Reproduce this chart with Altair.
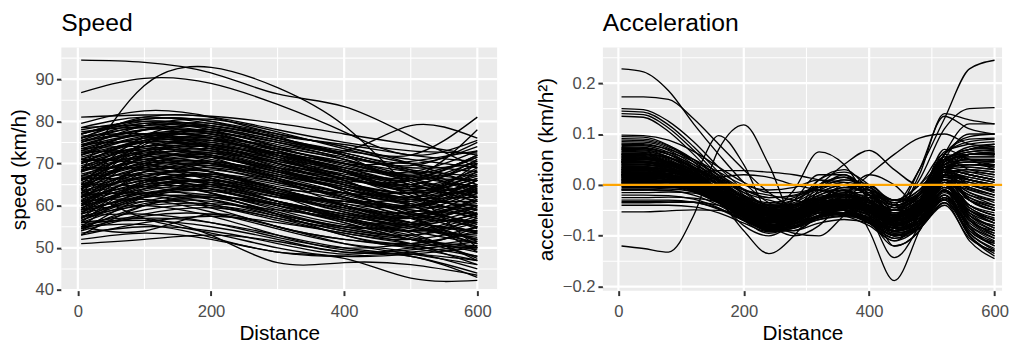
import altair as alt
import pandas as pd

FONT = "Liberation Sans"

# ---------------- data ----------------
DIST_SPEED = [5, 100, 200, 300, 400, 500, 600]
SPEED_CURVES = [
    [94.5, 94.0, 91.5, 86.5, 83.5, 76.5, 69.0],
    [86.8, 90.2, 89.0, 84.0, 77.5, 72.0, 75.5],
    [68.0, 88.5, 92.8, 88.0, 79.0, 64.0, 50.0],
    [81.0, 81.5, 81.2, 79.5, 77.0, 74.5, 72.0],
    [79.5, 82.5, 81.0, 77.0, 74.0, 72.0, 81.0],
    [78.5, 81.0, 79.5, 76.5, 73.0, 79.0, 76.0],
    [77.0, 80.5, 80.0, 76.0, 72.0, 67.0, 78.0],
    [51.0, 52.0, 53.0, 51.5, 49.0, 48.5, 47.0],
    [52.0, 53.5, 52.0, 49.0, 48.0, 49.0, 50.5],
    [56.0, 57.0, 53.0, 46.5, 46.5, 46.0, 43.5],
    [55.0, 55.5, 52.5, 49.0, 47.5, 42.8, 42.3],
    [64.0, 57.0, 53.5, 50.0, 48.0, 48.5, 50.0],
    [55.0, 54.0, 58.0, 55.0, 52.0, 50.0, 47.0],
    [53.5, 55.0, 54.0, 51.0, 48.5, 50.0, 52.0],
    [54.0, 57.5, 58.0, 55.0, 51.0, 48.5, 46.0],
    [54.5, 58.0, 59.5, 57.0, 53.0, 50.5, 55.0],
    [55.0, 59.0, 60.0, 57.5, 54.0, 52.0, 50.0],
    [55.5, 57.0, 56.0, 53.0, 50.0, 48.0, 44.0],
    [56.0, 60.5, 61.0, 58.0, 54.5, 53.0, 57.0],
    [56.5, 61.0, 62.5, 60.0, 56.0, 52.0, 48.0],
    [57.0, 62.0, 61.5, 58.0, 55.0, 55.5, 60.0],
    [57.5, 60.0, 60.5, 59.0, 57.0, 54.0, 51.0],
    [58.0, 63.0, 63.5, 60.5, 57.0, 56.0, 62.0],
    [58.5, 62.5, 64.0, 61.0, 58.0, 54.5, 53.0],
    [59.0, 64.0, 63.0, 59.0, 55.5, 53.0, 47.5],
    [59.5, 63.5, 65.0, 62.5, 59.0, 57.5, 63.0],
    [60.0, 65.0, 64.5, 61.0, 58.0, 56.0, 54.0],
    [60.5, 64.0, 66.0, 63.5, 60.0, 58.0, 60.0],
    [61.0, 66.0, 65.0, 62.0, 60.5, 57.0, 56.5],
    [61.5, 65.5, 67.0, 64.0, 60.0, 56.0, 52.0],
    [62.0, 67.0, 66.5, 63.0, 61.0, 59.5, 64.0],
    [62.5, 66.0, 67.5, 65.5, 62.0, 59.0, 58.0],
    [63.0, 68.0, 67.0, 63.5, 60.5, 60.0, 66.0],
    [63.5, 67.0, 68.5, 66.0, 63.0, 58.5, 55.0],
    [64.0, 69.0, 68.0, 64.0, 61.0, 61.5, 62.0],
    [64.5, 68.0, 69.5, 67.0, 64.5, 62.0, 68.0],
    [65.0, 70.0, 69.0, 65.5, 62.0, 58.0, 53.5],
    [65.5, 69.5, 70.5, 68.0, 65.0, 63.0, 65.0],
    [66.0, 71.0, 70.0, 66.0, 63.0, 60.5, 59.0],
    [66.5, 70.0, 71.5, 69.0, 66.0, 62.0, 70.0],
    [67.0, 72.0, 71.0, 67.5, 64.0, 61.0, 57.0],
    [67.5, 71.0, 72.5, 70.0, 67.0, 64.5, 63.0],
    [68.0, 73.0, 72.0, 68.0, 65.5, 63.0, 69.0],
    [68.5, 72.0, 73.5, 71.0, 68.0, 65.0, 61.0],
    [69.0, 74.0, 73.0, 69.0, 66.0, 66.0, 72.0],
    [69.5, 73.0, 74.0, 72.0, 69.0, 64.0, 58.0],
    [70.0, 75.0, 74.0, 70.5, 67.0, 62.0, 60.0],
    [70.5, 74.0, 75.0, 72.5, 70.0, 67.0, 66.0],
    [71.0, 75.5, 74.5, 71.0, 68.5, 65.0, 71.0],
    [71.5, 75.0, 76.0, 73.5, 70.0, 66.5, 62.0],
    [72.0, 76.0, 75.0, 72.0, 69.0, 68.0, 73.0],
    [72.5, 76.5, 76.5, 74.0, 71.0, 67.0, 64.5],
    [73.0, 77.0, 76.0, 72.5, 70.0, 65.5, 59.5],
    [73.5, 77.0, 77.5, 75.0, 72.0, 69.0, 70.0],
    [74.0, 78.0, 77.0, 73.5, 70.5, 68.0, 66.0],
    [74.5, 78.0, 78.5, 75.5, 72.5, 70.0, 74.0],
    [75.0, 79.0, 78.0, 74.0, 71.0, 66.0, 62.0],
    [75.5, 79.5, 79.0, 76.0, 73.0, 71.0, 69.0],
    [76.0, 80.0, 78.5, 75.0, 72.0, 69.5, 75.0],
    [77.0, 80.5, 80.0, 77.0, 74.0, 70.0, 65.0],
    [78.0, 80.0, 79.0, 76.5, 74.5, 72.0, 70.5],
    [53.0, 60.0, 62.0, 58.0, 53.0, 51.0, 54.0],
    [54.0, 62.0, 64.5, 61.0, 56.5, 52.5, 49.0],
    [55.0, 64.0, 66.0, 63.0, 59.5, 55.0, 52.5],
    [56.0, 65.5, 67.0, 62.5, 57.0, 54.0, 58.5],
    [57.0, 66.0, 69.0, 66.0, 61.5, 57.0, 51.5],
    [58.0, 68.0, 70.0, 66.5, 62.0, 60.0, 65.0],
    [59.0, 69.5, 71.5, 68.0, 63.5, 58.0, 56.0],
    [60.0, 70.0, 73.0, 70.0, 65.0, 61.5, 61.0],
    [61.0, 72.0, 74.5, 71.0, 66.0, 60.0, 54.5],
    [62.0, 73.0, 75.5, 72.5, 68.0, 64.0, 67.0],
    [63.0, 74.5, 77.0, 73.0, 68.5, 62.5, 57.5],
    [64.0, 75.0, 78.0, 75.0, 71.0, 67.0, 71.5],
    [65.0, 76.5, 79.0, 76.0, 72.0, 68.0, 63.0],
    [60.5, 66.0, 63.0, 58.0, 55.0, 52.0, 49.5],
    [62.5, 63.0, 60.5, 57.0, 54.5, 53.0, 56.0],
    [66.5, 66.0, 63.0, 59.5, 56.0, 52.0, 50.5],
    [68.5, 69.0, 66.0, 61.0, 57.5, 55.0, 52.0],
    [70.5, 71.0, 68.0, 63.0, 58.5, 55.5, 58.0],
    [72.5, 73.0, 70.5, 66.0, 60.0, 56.0, 54.0],
    [74.5, 75.0, 71.5, 66.5, 62.0, 58.0, 61.5],
    [76.5, 77.0, 74.0, 69.0, 63.5, 57.5, 49.0],
    [77.5, 78.5, 76.0, 71.5, 66.0, 60.0, 55.5],
    [78.5, 79.0, 77.5, 73.0, 68.0, 63.5, 66.5],
    [73.0, 72.0, 68.0, 64.0, 63.0, 62.0, 64.0],
    [71.0, 70.0, 66.5, 62.5, 61.0, 59.5, 60.5],
    [69.0, 68.5, 65.0, 61.0, 58.0, 55.5, 51.0],
    [67.0, 67.0, 64.0, 60.0, 56.5, 53.5, 47.0],
    [65.0, 64.5, 61.5, 57.5, 54.0, 51.0, 46.0],
    [63.0, 62.5, 59.5, 55.0, 52.0, 50.5, 48.0],
    [61.0, 61.5, 58.5, 54.5, 51.0, 49.0, 45.0],
    [59.0, 60.0, 57.5, 53.0, 49.5, 48.0, 43.0],
    [57.5, 58.0, 56.0, 52.5, 50.0, 51.0, 53.5],
    [56.0, 56.5, 55.0, 52.0, 49.0, 49.5, 51.5],
    [66.0, 73.0, 74.0, 70.0, 66.5, 64.0, 68.0],
    [68.0, 75.5, 76.5, 72.0, 67.0, 63.0, 59.0],
    [70.0, 76.0, 77.5, 74.0, 70.0, 70.5, 73.0],
    [72.0, 78.0, 79.5, 76.0, 72.5, 68.5, 64.0],
    [74.0, 79.0, 80.5, 77.5, 73.5, 70.0, 68.0],
    [76.0, 81.0, 81.0, 78.0, 75.0, 73.0, 72.5],
    [64.5, 70.5, 72.0, 69.0, 66.5, 65.0, 70.0],
    [62.0, 68.0, 70.0, 67.5, 64.0, 61.0, 66.0],
    [59.5, 65.0, 67.5, 65.0, 62.5, 60.0, 63.5],
    [57.0, 62.5, 65.0, 63.0, 60.0, 57.5, 61.0],
    [54.5, 60.0, 62.0, 60.5, 57.5, 54.0, 56.5],
    [53.0, 56.0, 57.5, 56.0, 53.5, 51.0, 50.0],
    [58.0, 61.0, 60.0, 56.5, 53.5, 52.0, 55.0],
    [59.0, 62.0, 62.0, 58.5, 55.0, 55.0, 58.0],
    [60.0, 63.0, 62.5, 60.0, 57.5, 55.0, 51.0],
    [61.0, 64.5, 64.0, 60.5, 57.0, 54.0, 57.5],
    [62.0, 65.0, 66.0, 63.0, 59.0, 57.0, 61.5],
    [63.0, 66.5, 65.5, 62.0, 59.5, 58.5, 63.5],
    [64.0, 67.5, 67.5, 64.5, 61.5, 59.0, 56.0],
    [65.0, 68.5, 68.0, 64.0, 60.0, 57.0, 60.0],
    [66.0, 69.5, 69.5, 67.0, 64.0, 61.5, 64.5],
    [67.0, 70.5, 70.0, 66.5, 63.0, 60.0, 55.0],
    [68.0, 71.5, 71.5, 68.5, 65.0, 62.0, 66.0],
    [69.0, 72.5, 72.0, 68.0, 64.5, 63.0, 67.5],
    [70.0, 73.5, 73.0, 70.0, 66.5, 64.0, 62.5],
    [71.0, 74.0, 74.5, 71.5, 68.0, 64.5, 68.5],
    [72.0, 75.0, 74.0, 70.5, 67.5, 66.0, 70.5],
    [73.0, 76.0, 75.5, 72.5, 69.0, 65.0, 61.0],
    [74.0, 77.0, 76.0, 72.0, 68.5, 66.5, 72.0],
    [75.0, 78.0, 77.5, 74.5, 71.5, 68.5, 67.0],
    [76.0, 78.5, 77.0, 73.5, 70.0, 67.5, 71.5],
    [77.0, 79.5, 78.5, 75.5, 72.0, 68.0, 63.5],
    [60.0, 67.0, 68.0, 64.0, 60.0, 57.0, 59.5],
    [62.0, 69.0, 70.5, 67.0, 63.0, 60.0, 64.5],
    [64.0, 71.5, 72.5, 68.5, 64.0, 60.5, 57.0],
    [66.0, 72.0, 74.5, 71.0, 67.0, 63.5, 66.5],
    [68.0, 74.0, 75.5, 72.0, 68.0, 66.0, 69.5],
    [70.0, 75.5, 76.0, 73.0, 69.5, 66.0, 63.0],
    [56.5, 62.0, 63.5, 60.0, 56.5, 55.5, 59.0],
    [58.5, 64.5, 65.5, 62.5, 58.5, 56.0, 53.5],
    [73.5, 74.0, 72.0, 68.5, 65.0, 61.5, 58.0],
    [75.5, 76.5, 73.5, 69.5, 65.5, 63.0, 65.0],
]

DIST_ACC = [5, 40, 80, 120, 160, 200, 240, 280, 320, 360, 400, 440, 480, 520, 560, 600]
ACC_CURVES = [
    [0.080, 0.079, 0.070, 0.050, 0.025, 0.000, -0.010, -0.005, 0.010, 0.005, -0.020, -0.030, 0.000, 0.050, 0.070, 0.075],
    [0.075, 0.074, 0.060, 0.030, -0.010, -0.050, -0.075, -0.060, -0.030, -0.040, -0.070, -0.090, -0.050, 0.030, 0.020, 0.010],
    [0.070, 0.069, 0.060, 0.040, 0.015, -0.010, -0.025, -0.020, -0.005, 0.010, 0.000, -0.030, -0.030, 0.010, -0.040, -0.060],
    [0.065, 0.064, 0.050, 0.025, -0.010, -0.045, -0.065, -0.055, -0.035, -0.010, -0.010, -0.040, -0.030, 0.020, 0.060, 0.065],
    [0.060, 0.060, 0.052, 0.035, 0.012, -0.010, -0.020, -0.030, -0.040, -0.050, -0.070, -0.100, -0.070, 0.000, -0.070, -0.090],
    [0.056, 0.055, 0.043, 0.020, -0.015, -0.055, -0.085, -0.070, -0.030, -0.005, -0.010, -0.030, 0.000, 0.060, 0.050, 0.045],
    [0.052, 0.051, 0.045, 0.030, 0.010, -0.015, -0.030, -0.040, -0.040, -0.050, -0.075, -0.105, -0.080, -0.020, -0.080, -0.110],
    [0.048, 0.047, 0.036, 0.012, -0.020, -0.055, -0.075, -0.065, -0.040, -0.020, -0.020, -0.035, -0.010, 0.050, 0.030, 0.020],
    [0.045, 0.045, 0.038, 0.022, 0.000, -0.022, -0.035, -0.025, 0.000, 0.015, -0.010, -0.060, -0.055, 0.000, -0.020, -0.040],
    [0.042, 0.041, 0.030, 0.005, -0.030, -0.065, -0.090, -0.085, -0.060, -0.045, -0.050, -0.080, -0.060, 0.000, -0.060, -0.080],
    [0.040, 0.040, 0.034, 0.018, -0.005, -0.030, -0.045, -0.040, -0.020, -0.005, -0.015, -0.045, -0.020, 0.065, 0.080, 0.085],
    [0.038, 0.037, 0.028, 0.005, -0.025, -0.055, -0.070, -0.060, -0.045, -0.040, -0.055, -0.075, -0.050, 0.010, 0.005, -0.010],
    [0.035, 0.035, 0.030, 0.015, -0.005, -0.025, -0.040, -0.045, -0.050, -0.060, -0.080, -0.110, -0.085, -0.030, -0.095, -0.125],
    [0.032, 0.032, 0.022, 0.000, -0.030, -0.065, -0.085, -0.075, -0.050, -0.035, -0.035, -0.050, -0.030, 0.035, 0.045, 0.040],
    [0.030, 0.030, 0.026, 0.012, -0.008, -0.030, -0.045, -0.035, -0.010, 0.005, -0.005, -0.030, -0.010, 0.050, 0.065, 0.070],
    [0.028, 0.028, 0.020, 0.000, -0.028, -0.058, -0.078, -0.070, -0.055, -0.055, -0.070, -0.095, -0.080, -0.025, -0.050, -0.070],
    [0.026, 0.025, 0.021, 0.008, -0.012, -0.035, -0.050, -0.040, -0.015, 0.000, -0.020, -0.055, -0.045, 0.015, 0.010, 0.000],
    [0.024, 0.024, 0.016, -0.002, -0.030, -0.062, -0.085, -0.080, -0.060, -0.045, -0.045, -0.060, -0.035, 0.030, -0.030, -0.050],
    [0.022, 0.022, 0.018, 0.006, -0.012, -0.032, -0.048, -0.050, -0.045, -0.048, -0.065, -0.090, -0.070, 0.000, -0.085, -0.115],
    [0.020, 0.020, 0.014, -0.002, -0.028, -0.058, -0.080, -0.072, -0.050, -0.030, -0.025, -0.040, -0.015, 0.055, 0.055, 0.055],
    [0.018, 0.018, 0.015, 0.004, -0.015, -0.038, -0.052, -0.045, -0.025, -0.020, -0.040, -0.070, -0.050, 0.010, -0.005, -0.020],
    [0.016, 0.016, 0.010, -0.006, -0.032, -0.062, -0.082, -0.075, -0.055, -0.045, -0.050, -0.065, -0.035, 0.035, 0.025, 0.015],
    [0.014, 0.014, 0.011, 0.000, -0.018, -0.040, -0.055, -0.055, -0.050, -0.055, -0.075, -0.105, -0.085, -0.030, -0.100, -0.135],
    [0.012, 0.012, 0.007, -0.008, -0.032, -0.060, -0.078, -0.065, -0.035, -0.015, -0.015, -0.040, -0.020, 0.050, 0.070, 0.080],
    [0.010, 0.010, 0.008, -0.002, -0.020, -0.042, -0.058, -0.055, -0.040, -0.035, -0.050, -0.080, -0.060, 0.010, -0.015, -0.030],
    [0.008, 0.008, 0.004, -0.010, -0.034, -0.064, -0.086, -0.080, -0.062, -0.055, -0.062, -0.085, -0.070, -0.020, -0.070, -0.095],
    [0.006, 0.006, 0.005, -0.003, -0.020, -0.040, -0.052, -0.040, -0.015, 0.000, -0.010, -0.040, -0.020, 0.055, 0.060, 0.060],
    [0.004, 0.004, 0.001, -0.012, -0.036, -0.066, -0.088, -0.082, -0.064, -0.055, -0.065, -0.090, -0.070, 0.000, -0.040, -0.060],
    [0.002, 0.002, 0.001, -0.006, -0.022, -0.044, -0.060, -0.060, -0.055, -0.058, -0.075, -0.100, -0.085, -0.035, -0.110, -0.145],
    [0.000, 0.000, -0.003, -0.014, -0.036, -0.064, -0.084, -0.072, -0.045, -0.025, -0.025, -0.045, -0.025, 0.040, 0.035, 0.030],
    [-0.005, -0.005, -0.005, -0.008, -0.020, -0.040, -0.055, -0.050, -0.035, -0.030, -0.045, -0.070, -0.050, 0.005, -0.010, -0.025],
    [-0.010, -0.010, -0.011, -0.020, -0.040, -0.068, -0.088, -0.082, -0.065, -0.058, -0.068, -0.092, -0.075, -0.015, -0.060, -0.085],
    [-0.015, -0.015, -0.014, -0.016, -0.026, -0.045, -0.060, -0.055, -0.038, -0.030, -0.040, -0.060, -0.035, 0.035, 0.045, 0.045],
    [-0.020, -0.020, -0.021, -0.028, -0.045, -0.070, -0.090, -0.085, -0.068, -0.060, -0.065, -0.085, -0.065, -0.005, -0.030, -0.045],
    [-0.025, -0.025, -0.024, -0.026, -0.034, -0.050, -0.062, -0.058, -0.048, -0.050, -0.070, -0.100, -0.085, -0.040, -0.105, -0.130],
    [-0.030, -0.030, -0.030, -0.034, -0.048, -0.070, -0.088, -0.082, -0.062, -0.045, -0.045, -0.060, -0.030, 0.045, 0.060, 0.065],
    [-0.035, -0.035, -0.034, -0.034, -0.040, -0.055, -0.068, -0.065, -0.055, -0.055, -0.068, -0.090, -0.072, -0.012, -0.050, -0.075],
    [-0.040, -0.040, -0.040, -0.043, -0.055, -0.075, -0.092, -0.090, -0.075, -0.068, -0.075, -0.098, -0.085, -0.035, -0.090, -0.120],
    [-0.053, -0.053, -0.051, -0.049, -0.050, -0.058, -0.066, -0.060, -0.045, -0.038, -0.048, -0.068, -0.045, 0.020, 0.005, -0.005],
    [-0.033, -0.033, -0.032, -0.034, -0.046, -0.068, -0.086, -0.082, -0.068, -0.062, -0.068, -0.090, -0.076, -0.028, -0.080, -0.105],
    [0.098, 0.097, 0.088, 0.066, 0.035, 0.005, -0.015, -0.015, -0.005, 0.000, -0.020, -0.050, -0.020, 0.060, 0.085, 0.090],
    [0.095, 0.094, 0.078, 0.045, 0.005, -0.035, -0.060, -0.058, -0.042, -0.035, -0.050, -0.080, -0.060, 0.005, -0.050, -0.075],
    [0.088, 0.087, 0.075, 0.050, 0.018, -0.015, -0.040, -0.038, -0.022, -0.018, -0.032, -0.058, -0.035, 0.035, 0.040, 0.035],
    [0.085, 0.084, 0.072, 0.045, 0.010, -0.025, -0.050, -0.048, -0.032, -0.028, -0.042, -0.068, -0.048, 0.020, -0.005, -0.020],
    [0.150, 0.148, 0.125, 0.085, 0.035, -0.010, -0.045, -0.055, -0.040, -0.030, -0.040, -0.065, -0.040, 0.060, 0.095, 0.100],
    [0.145, 0.143, 0.118, 0.075, 0.025, -0.020, -0.055, -0.060, -0.045, -0.035, -0.050, -0.080, -0.060, 0.020, -0.030, -0.050],
    [0.140, 0.138, 0.112, 0.068, 0.018, -0.028, -0.060, -0.062, -0.045, -0.040, -0.055, -0.090, -0.075, -0.010, -0.090, -0.115],
    [0.135, 0.133, 0.105, 0.060, 0.010, -0.035, -0.065, -0.065, -0.048, -0.038, -0.048, -0.070, -0.045, 0.040, 0.055, 0.055],
    [0.173, 0.173, 0.168, 0.130, 0.080, 0.030, -0.015, -0.040, -0.040, -0.030, -0.045, -0.075, -0.055, 0.030, 0.020, 0.010],
    [0.228, 0.222, 0.185, 0.120, 0.060, 0.005, -0.035, -0.050, -0.045, -0.040, -0.055, -0.080, -0.050, 0.045, 0.060, 0.060],
    [0.050, 0.050, 0.040, 0.015, -0.020, -0.060, -0.085, -0.060, 0.010, 0.030, -0.010, -0.070, -0.060, 0.000, -0.060, -0.090],
    [0.030, 0.030, 0.020, 0.000, -0.030, -0.070, -0.095, -0.075, -0.010, 0.020, -0.020, -0.100, -0.080, -0.010, -0.100, -0.130],
    [0.060, 0.060, 0.045, 0.015, -0.030, -0.080, -0.100, -0.070, 0.000, 0.015, -0.030, -0.120, -0.090, 0.020, 0.010, 0.000],
    [0.015, 0.015, 0.010, -0.005, -0.030, -0.065, -0.090, -0.085, -0.040, 0.000, -0.010, -0.060, -0.030, 0.060, 0.090, 0.092],
    [0.070, 0.069, 0.055, 0.025, -0.010, -0.050, -0.080, -0.100, -0.080, -0.030, 0.000, -0.040, -0.050, 0.000, -0.070, -0.100],
    [0.045, 0.044, 0.035, 0.012, -0.020, -0.055, -0.075, -0.095, -0.100, -0.060, -0.020, -0.030, -0.020, 0.070, 0.050, 0.030],
    [0.025, 0.025, 0.018, 0.000, -0.025, -0.060, -0.085, -0.090, -0.060, -0.020, 0.020, 0.000, -0.040, 0.010, -0.080, -0.120],
    [0.010, 0.010, 0.005, -0.010, -0.030, -0.050, -0.060, -0.040, 0.010, 0.025, 0.000, -0.050, -0.050, 0.010, -0.040, -0.060],
    [0.055, 0.054, 0.045, 0.020, -0.010, -0.040, -0.055, -0.030, 0.020, 0.020, -0.030, -0.090, -0.060, 0.050, 0.100, 0.100],
    [0.035, 0.035, 0.028, 0.010, -0.020, -0.055, -0.080, -0.075, -0.050, -0.050, -0.075, -0.110, -0.060, 0.060, 0.120, 0.120],
    [-0.120, -0.125, -0.132, -0.060, 0.070, 0.118, 0.040, -0.060, -0.050, -0.020, -0.030, -0.060, -0.040, 0.010, 0.000, -0.010],
    [0.005, 0.005, 0.000, 0.020, 0.097, 0.040, -0.060, -0.090, -0.060, -0.030, -0.030, -0.050, -0.020, 0.030, 0.020, 0.010],
    [0.020, 0.020, 0.015, 0.000, -0.030, -0.090, -0.135, -0.100, -0.040, -0.010, -0.030, -0.060, -0.020, 0.040, 0.050, 0.050],
    [0.030, 0.030, 0.022, 0.005, -0.020, -0.045, -0.060, -0.050, -0.020, -0.010, -0.090, -0.188, -0.090, 0.020, 0.060, 0.060],
    [0.050, 0.050, 0.042, 0.020, -0.010, -0.040, -0.060, -0.055, -0.030, -0.020, -0.060, -0.143, -0.080, 0.030, 0.040, 0.040],
    [0.010, 0.010, 0.006, -0.005, -0.025, -0.050, -0.065, -0.060, -0.040, -0.040, -0.070, -0.120, -0.090, -0.010, -0.060, -0.080],
    [0.040, 0.040, 0.030, 0.010, -0.020, -0.050, -0.070, -0.065, -0.045, -0.040, -0.050, -0.040, 0.030, 0.130, 0.228, 0.245],
    [0.060, 0.060, 0.048, 0.022, -0.010, -0.045, -0.065, -0.060, -0.040, -0.030, -0.040, -0.050, 0.010, 0.110, 0.150, 0.152],
    [0.020, 0.020, 0.014, 0.000, -0.025, -0.055, -0.075, -0.068, -0.048, -0.040, -0.050, -0.060, 0.020, 0.140, 0.128, 0.120],
    [0.045, 0.045, 0.036, 0.014, -0.018, -0.050, -0.070, -0.062, -0.040, -0.032, -0.045, -0.050, 0.030, 0.135, 0.110, 0.100],
    [0.000, 0.000, -0.002, -0.010, -0.025, -0.040, -0.045, -0.030, 0.000, 0.040, 0.068, 0.030, 0.000, 0.030, 0.010, 0.000],
    [0.025, 0.025, 0.020, 0.005, -0.015, -0.040, -0.050, -0.010, 0.065, 0.040, -0.030, -0.080, -0.060, 0.010, -0.020, -0.030],
    [0.015, 0.015, 0.010, -0.003, -0.022, -0.045, -0.060, -0.055, -0.040, -0.020, 0.020, 0.060, 0.092, 0.100, 0.080, 0.075],
    [0.020, 0.020, 0.022, 0.025, 0.028, 0.028, 0.025, 0.020, 0.010, 0.000, -0.020, -0.040, -0.020, 0.030, 0.040, 0.040],
    [-0.010, -0.010, -0.005, 0.005, 0.015, 0.020, 0.015, 0.000, -0.010, -0.020, -0.040, -0.060, -0.040, 0.010, -0.030, -0.050],
    [0.072, 0.071, 0.064, 0.046, 0.020, -0.008, -0.025, -0.022, -0.010, -0.012, -0.035, -0.070, -0.050, 0.025, 0.010, 0.000],
    [0.068, 0.067, 0.054, 0.028, -0.008, -0.045, -0.070, -0.065, -0.050, -0.045, -0.055, -0.080, -0.060, 0.005, -0.065, -0.100],
    [0.063, 0.062, 0.054, 0.035, 0.008, -0.020, -0.038, -0.030, -0.005, 0.010, -0.005, -0.035, -0.015, 0.045, 0.075, 0.080],
    [0.058, 0.058, 0.045, 0.020, -0.015, -0.052, -0.078, -0.075, -0.060, -0.050, -0.055, -0.075, -0.058, 0.000, -0.045, -0.070],
    [0.054, 0.053, 0.046, 0.028, 0.002, -0.025, -0.042, -0.040, -0.028, -0.025, -0.045, -0.078, -0.055, 0.025, 0.030, 0.025],
    [0.050, 0.050, 0.040, 0.016, -0.018, -0.052, -0.072, -0.062, -0.040, -0.032, -0.050, -0.085, -0.075, -0.020, -0.100, -0.140],
    [0.046, 0.046, 0.040, 0.024, 0.002, -0.022, -0.040, -0.038, -0.025, -0.020, -0.035, -0.060, -0.040, 0.025, 0.015, 0.005],
    [0.043, 0.043, 0.033, 0.010, -0.022, -0.058, -0.082, -0.076, -0.055, -0.040, -0.040, -0.055, -0.030, 0.045, 0.070, 0.072],
    [0.036, 0.036, 0.031, 0.017, -0.004, -0.028, -0.045, -0.048, -0.042, -0.045, -0.060, -0.090, -0.070, -0.005, -0.040, -0.055],
    [0.033, 0.033, 0.025, 0.004, -0.026, -0.060, -0.080, -0.070, -0.045, -0.030, -0.030, -0.050, -0.030, 0.040, 0.050, 0.048],
    [0.029, 0.029, 0.025, 0.012, -0.008, -0.030, -0.046, -0.048, -0.045, -0.050, -0.072, -0.100, -0.080, -0.025, -0.075, -0.105],
    [0.027, 0.027, 0.019, 0.000, -0.028, -0.060, -0.080, -0.068, -0.042, -0.030, -0.040, -0.065, -0.040, 0.030, 0.020, 0.010],
    [0.023, 0.023, 0.019, 0.006, -0.014, -0.036, -0.052, -0.052, -0.048, -0.050, -0.065, -0.090, -0.070, -0.010, -0.055, -0.075],
    [0.019, 0.019, 0.013, -0.004, -0.030, -0.060, -0.080, -0.070, -0.045, -0.030, -0.035, -0.060, -0.040, 0.025, 0.000, -0.012],
    [0.013, 0.013, 0.011, 0.002, -0.016, -0.038, -0.055, -0.050, -0.035, -0.030, -0.045, -0.075, -0.055, 0.010, -0.025, -0.040],
    [0.009, 0.009, 0.005, -0.008, -0.032, -0.062, -0.084, -0.078, -0.062, -0.058, -0.070, -0.095, -0.078, -0.025, -0.095, -0.128],
    [0.005, 0.005, 0.004, -0.002, -0.018, -0.040, -0.056, -0.050, -0.030, -0.020, -0.030, -0.060, -0.045, 0.015, -0.008, -0.020],
    [0.001, 0.001, -0.001, -0.012, -0.034, -0.062, -0.082, -0.076, -0.060, -0.055, -0.065, -0.090, -0.070, 0.000, -0.050, -0.068],
    [-0.003, -0.003, -0.003, -0.008, -0.022, -0.044, -0.060, -0.052, -0.030, -0.020, -0.035, -0.065, -0.045, 0.025, 0.025, 0.020],
    [0.078, 0.077, 0.064, 0.036, 0.000, -0.038, -0.062, -0.060, -0.045, -0.040, -0.050, -0.070, -0.040, 0.050, 0.065, 0.068],
    [0.066, 0.065, 0.055, 0.032, 0.000, -0.032, -0.052, -0.045, -0.025, -0.015, -0.025, -0.050, -0.030, 0.035, 0.050, 0.050],
    [0.062, 0.061, 0.053, 0.034, 0.006, -0.024, -0.044, -0.042, -0.032, -0.032, -0.050, -0.080, -0.060, 0.010, -0.030, -0.050],
    [0.057, 0.056, 0.046, 0.024, -0.008, -0.040, -0.060, -0.052, -0.030, -0.018, -0.030, -0.055, -0.035, 0.040, 0.060, 0.062],
    [0.053, 0.052, 0.043, 0.022, -0.008, -0.038, -0.056, -0.050, -0.035, -0.032, -0.050, -0.078, -0.060, 0.000, -0.055, -0.085],
    [0.047, 0.046, 0.038, 0.018, -0.010, -0.040, -0.058, -0.050, -0.028, -0.018, -0.030, -0.055, -0.035, 0.035, 0.040, 0.035],
    [0.044, 0.044, 0.035, 0.014, -0.016, -0.048, -0.068, -0.062, -0.044, -0.038, -0.052, -0.082, -0.066, -0.010, -0.070, -0.095],
    [0.039, 0.039, 0.033, 0.016, -0.008, -0.034, -0.050, -0.044, -0.028, -0.022, -0.036, -0.062, -0.042, 0.025, 0.010, -0.005],
    [0.034, 0.034, 0.027, 0.008, -0.020, -0.050, -0.070, -0.064, -0.046, -0.040, -0.052, -0.078, -0.058, 0.010, -0.015, -0.035],
    [0.031, 0.031, 0.026, 0.011, -0.012, -0.038, -0.056, -0.052, -0.038, -0.035, -0.048, -0.072, -0.050, 0.020, 0.030, 0.025],
    [0.025, 0.025, 0.020, 0.005, -0.020, -0.048, -0.068, -0.062, -0.044, -0.038, -0.050, -0.075, -0.055, 0.015, 0.000, -0.015],
    [0.021, 0.021, 0.016, 0.002, -0.022, -0.050, -0.070, -0.064, -0.046, -0.040, -0.052, -0.078, -0.060, 0.005, -0.045, -0.065],
    [0.017, 0.017, 0.013, 0.000, -0.022, -0.048, -0.066, -0.060, -0.042, -0.034, -0.042, -0.062, -0.038, 0.040, 0.060, 0.062],
    [0.011, 0.011, 0.008, -0.003, -0.024, -0.050, -0.068, -0.062, -0.044, -0.038, -0.048, -0.070, -0.050, 0.020, 0.015, 0.005],
    [0.007, 0.007, 0.005, -0.005, -0.026, -0.052, -0.070, -0.066, -0.050, -0.046, -0.058, -0.084, -0.066, -0.012, -0.065, -0.090],
    [0.003, 0.003, 0.001, -0.008, -0.028, -0.054, -0.072, -0.066, -0.048, -0.040, -0.048, -0.068, -0.046, 0.030, 0.040, 0.038],
    [-0.002, -0.002, -0.003, -0.010, -0.028, -0.052, -0.070, -0.066, -0.052, -0.048, -0.060, -0.086, -0.070, -0.020, -0.085, -0.112],
    [0.073, 0.072, 0.060, 0.034, -0.002, -0.040, -0.064, -0.058, -0.040, -0.032, -0.044, -0.068, -0.046, 0.030, 0.035, 0.030],
    [0.082, 0.081, 0.068, 0.040, 0.002, -0.036, -0.058, -0.052, -0.034, -0.028, -0.042, -0.070, -0.052, 0.010, -0.025, -0.045],
    [-0.008, -0.008, -0.008, -0.013, -0.030, -0.056, -0.074, -0.068, -0.050, -0.042, -0.050, -0.072, -0.052, 0.018, 0.010, 0.000],
    [0.091, 0.090, 0.077, 0.050, 0.012, -0.028, -0.052, -0.048, -0.030, -0.022, -0.035, -0.062, -0.040, 0.045, 0.060, 0.058],
]

X_MAJOR = [0, 200, 400, 600]
X_MINOR = [100, 300, 500]
SPEED_MAJOR = [40, 50, 60, 70, 80, 90]
SPEED_MINOR = [45, 55, 65, 75, 85, 95]
ACC_MAJOR = [-0.2, -0.1, 0.0, 0.1, 0.2]
ACC_MINOR = [-0.15, -0.05, 0.05, 0.15, 0.25]
ZERO_LINE = [0.0]


def to_long(xs, curves, col):
    rows = []
    for i, curve in enumerate(curves):
        for x, v in zip(xs, curve):
            rows.append({"curve": i, "distance": x, col: v})
    return pd.DataFrame(rows)


speed_df = to_long(DIST_SPEED, SPEED_CURVES, "speed")
acc_df = to_long(DIST_ACC, ACC_CURVES, "accel")


def panel(df, col, title, ytitle, xdomain, ydomain, width, height,
          ymajor, yminor, yfmt, interp, zero=False):
    xs = alt.Scale(domain=xdomain, nice=False, zero=False)
    ys = alt.Scale(domain=ydomain, nice=False, zero=False)
    xaxis = alt.Axis(values=X_MAJOR, title="Distance", format="d",
                     labelPadding=8, titlePadding=3)
    yaxis = alt.Axis(values=ymajor, title=ytitle, format=yfmt)

    def vrules(vals, w):
        return alt.Chart(pd.DataFrame({"v": vals})).mark_rule(
            color="white", strokeWidth=w).encode(
            x=alt.X("v:Q", scale=xs, axis=xaxis))

    def hrules(vals, w):
        return alt.Chart(pd.DataFrame({"v": vals})).mark_rule(
            color="white", strokeWidth=w).encode(
            y=alt.Y("v:Q", scale=ys, axis=yaxis))

    lines = alt.Chart(df).mark_line(
        color="black", strokeWidth=1.35, interpolate=interp, clip=True
    ).encode(
        x=alt.X("distance:Q", scale=xs, axis=xaxis),
        y=alt.Y(f"{col}:Q", scale=ys, axis=yaxis),
        detail="curve:N",
    )
    layers = [vrules(X_MINOR, 1.1), hrules(yminor, 1.1),
              vrules(X_MAJOR, 2.2), hrules(ymajor, 2.2), lines]
    if zero:
        layers.append(
            alt.Chart(pd.DataFrame({"v": ZERO_LINE})).mark_rule(
                color="#FFA500", strokeWidth=2.2).encode(
                y=alt.Y("v:Q", scale=ys, axis=yaxis)))
    return alt.layer(*layers).properties(
        width=width, height=height,
        title=alt.TitleParams(title, anchor="start", frame="group",
                              fontSize=25, font=FONT, fontWeight="normal",
                              color="black", offset=11),
    )


left = panel(speed_df, "speed", "Speed", "speed (km/h)",
             [-24.75, 629.75], [39.85, 97.5], 441, 246,
             SPEED_MAJOR, SPEED_MINOR, "d", "natural")
right = panel(acc_df, "accel", "Acceleration", "acceleration (km/h²)",
              [-24.75, 612.0], [-0.2078, 0.27], 404, 246,
              ACC_MAJOR, ACC_MINOR, ".1f", "monotone", zero=True)

chart = alt.hconcat(left, right, spacing=36).configure(
    padding={"left": 0, "top": 0, "right": 0, "bottom": 0},
    font=FONT,
).configure_view(
    fill="#EBEBEB", stroke="#EBEBEB", strokeWidth=0,
).configure_axis(
    grid=False, domain=False,
    labelFont=FONT, labelFontSize=16.8, labelColor="#4D4D4D",
    tickColor="#333333", tickWidth=2, tickSize=5, labelPadding=3,
    titleFont=FONT, titleFontSize=21, titleFontWeight="normal",
    titleColor="black", titlePadding=6,
)

chart.save("out.html", embed_options={"renderer": "svg", "actions": False})
